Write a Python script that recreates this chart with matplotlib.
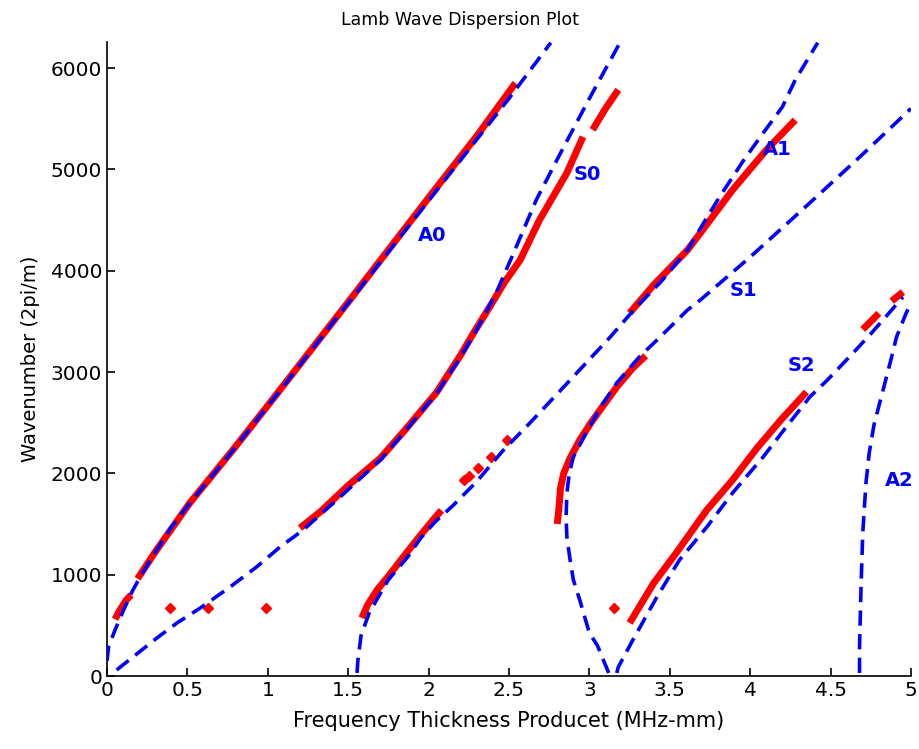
import numpy as np
import matplotlib
matplotlib.use("Agg")
import matplotlib.pyplot as plt

nan = np.nan

# ---- theoretical dispersion curves (blue dashed) ----
A0_fd = [0.0, 0.01, 0.05, 0.10, 0.155, 0.20, 0.30, 0.40, 0.516, 0.785, 1.03, 1.50, 2.00, 2.50, 2.76]
A0_k = [150, 290, 454, 640, 830, 960, 1220, 1470, 1707, 2230, 2724, 3680, 4690, 5700, 6250]

S0_fd = [0.06, 0.162, 0.31, 0.435, 0.58, 0.765, 0.93, 1.076, 1.22, 1.325, 1.45, 1.70, 1.86, 2.05,
         2.20, 2.30, 2.42, 2.53, 2.67, 2.82, 3.00, 3.19]
S0_k = [60, 188, 375, 523, 671, 878, 1076, 1273, 1441, 1590, 1767, 2132, 2428, 2790,
        3150, 3420, 3780, 4180, 4700, 5160, 5700, 6250]

A1_fd = [1.555, 1.56, 1.58, 1.63, 1.68, 1.75, 1.87, 1.95, 2.04, 2.15, 2.30, 2.46, 2.63, 2.84,
         3.13, 3.28, 3.45, 3.61, 3.71, 3.81, 3.96, 4.08, 4.20, 4.28, 4.42]
A1_k = [30, 150, 400, 620, 760, 950, 1175, 1360, 1520, 1680, 1920, 2220, 2497, 2852,
        3346, 3620, 3900, 4204, 4470, 4729, 5092, 5357, 5616, 5882, 6250]

S1_fd = [3.12, 3.05, 3.00, 2.94, 2.90, 2.88, 2.86, 2.855, 2.86, 2.875, 2.90, 2.99, 3.07, 3.17,
         3.31, 3.44, 3.61, 3.69, 4.00, 4.37, 4.70, 5.00]
S1_k = [30, 300, 424, 750, 950, 1145, 1372, 1569, 1806, 2000, 2161, 2428, 2655, 2892,
        3148, 3346, 3612, 3711, 4135, 4668, 5150, 5600]

S2_fd = [3.17, 3.18, 3.27, 3.42, 3.56, 3.73, 3.89, 4.08, 4.23, 4.37, 4.48, 4.64, 4.76, 4.95]
S2_k = [30, 89, 355, 780, 1145, 1470, 1806, 2161, 2470, 2753, 2921, 3188, 3395, 3740]

A2_fd = [4.68, 4.68, 4.69, 4.70, 4.72, 4.74, 4.77, 4.81, 4.87, 4.91, 4.97, 5.00]
A2_k = [30, 300, 918, 1411, 1905, 2200, 2480, 2724, 3089, 3346, 3582, 3681]

# ---- experimental data (red) ----
expA0_fd = [0.05, 0.08, 0.12, 0.15, nan, 0.19, 0.30, 0.516, 0.785, 1.03, 1.50, 2.00, 2.30, 2.54]
expA0_k = [560, 651, 750, 800, nan, 960, 1225, 1710, 2235, 2730, 3690, 4720, 5330, 5852]

expS0_fd = [1.20, 1.33, 1.50, 1.70, 1.86, 2.05, 2.20, 2.28, 2.38, 2.47, 2.57, 2.69, 2.86, 2.96,
            nan, 3.02, 3.10, 3.18]
expS0_k = [1460, 1625, 1880, 2150, 2440, 2800, 3170, 3386, 3643, 3880, 4107, 4502, 4965, 5321,
           nan, 5390, 5600, 5785]

expA1_fd = [1.585, 1.62, 1.68, 1.75, 1.85, 1.95, 2.03, 2.08, nan, 3.25, 3.40, 3.61, 3.69, 3.89, 4.10, 4.28]
expA1_k = [572, 700, 850, 985, 1190, 1390, 1545, 1635, nan, 3582, 3860, 4204, 4372, 4796, 5191, 5487]

expS1_fd = [2.80, 2.81, 2.82, 2.84, 2.88, 2.94, 3.01, 3.08, 3.17, 3.27, 3.35]
expS1_k = [1500, 1650, 1850, 2000, 2150, 2329, 2500, 2655, 2852, 3040, 3160]

expS2_fd = [3.25, 3.40, 3.54, 3.73, 3.89, 4.04, 4.19, 4.35, nan, 4.70, 4.80, nan, 4.88, 4.95]
expS2_k = [523, 918, 1214, 1638, 1934, 2245, 2526, 2803, nan, 3420, 3580, nan, 3700, 3790]

pts_fd = [0.39, 0.63, 0.99, 3.15, 2.22, 2.25, 2.31, 2.39, 2.49]
pts_k = [675, 675, 675, 675, 1934, 1975, 2053, 2161, 2329]

# ---- mode labels ----
mode_names = ["A0", "S0", "A1", "S1", "S2", "A2"]
mode_fd = [2.02, 2.99, 4.17, 3.96, 4.32, 4.93]
mode_k = [4343, 4945, 5192, 3800, 3060, 1925]

x_ticks = [0, 0.5, 1, 1.5, 2, 2.5, 3, 3.5, 4, 4.5, 5]
x_ticklabels = ["0", "0.5", "1", "1.5", "2", "2.5", "3", "3.5", "4", "4.5", "5"]
y_ticks = [0, 1000, 2000, 3000, 4000, 5000, 6000]

plt.rcParams["font.family"] = ["DejaVu Sans"]
plt.rcParams["lines.scale_dashes"] = False

fig = plt.figure(figsize=(9.19, 7.49), dpi=100)
ax = fig.add_axes([107 / 919, 73 / 749, 804 / 919, 634 / 749])

RED = "#ff0000"
BLUE = "#0000ff"

for fd, k in [(expA0_fd, expA0_k), (expS0_fd, expS0_k), (expA1_fd, expA1_k),
              (expS1_fd, expS1_k), (expS2_fd, expS2_k)]:
    ax.plot(fd, k, color=RED, lw=5, solid_capstyle="butt", zorder=2)
ax.plot(pts_fd, pts_k, linestyle="none", marker="D", markersize=5, color=RED, zorder=2)

for fd, k in [(A0_fd, A0_k), (S0_fd, S0_k), (A1_fd, A1_k), (S1_fd, S1_k), (S2_fd, S2_k), (A2_fd, A2_k)]:
    ax.plot(fd, k, color=BLUE, lw=2.6, linestyle=(0, (11, 6)), zorder=3)

for name, fx, ky in zip(mode_names, mode_fd, mode_k):
    ax.text(fx, ky, name, color=BLUE, fontsize=14, fontweight="bold", ha="center", va="center", zorder=4)

ax.set_xlim(0, 5)
ax.set_ylim(0, 6257)
ax.set_xticks(x_ticks)
ax.set_xticklabels(x_ticklabels)
ax.set_yticks(y_ticks)
ax.tick_params(direction="in", length=6, width=1.2, labelsize=14.5, colors="black")
ax.spines["top"].set_visible(False)
ax.spines["right"].set_visible(False)
for s in ("left", "bottom"):
    ax.spines[s].set_linewidth(1.2)
ax.set_title("Lamb Wave Dispersion Plot", fontsize=12.5, pad=12, x=(459.5 - 107) / 804)
ax.set_xlabel("Frequency Thickness Producet (MHz-mm)", fontsize=15, labelpad=8)
ax.set_ylabel("Wavenumber (2pi/m)", fontsize=14, labelpad=8)

fig.savefig("out.png", dpi=100)
